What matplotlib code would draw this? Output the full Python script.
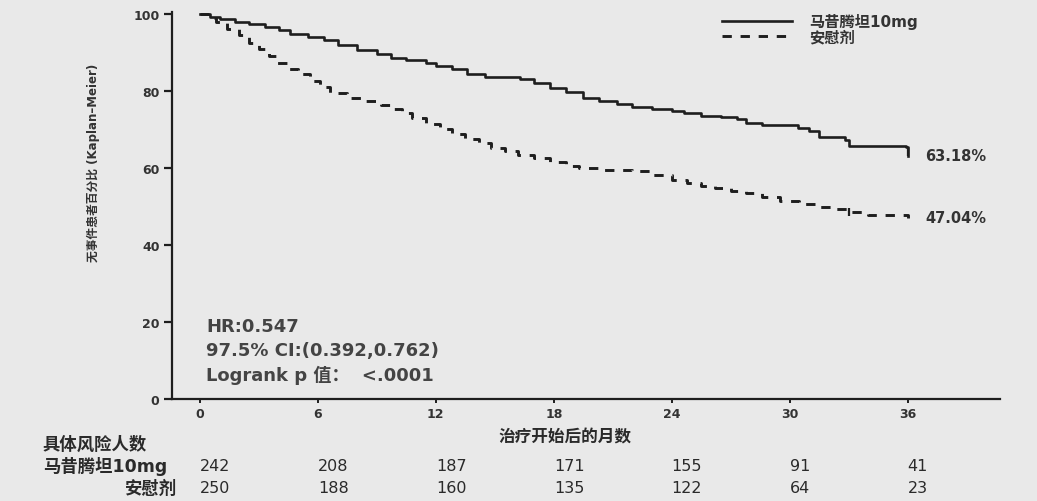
import numpy as np
import matplotlib
matplotlib.use('Agg')
import matplotlib.pyplot as plt
from matplotlib.transforms import blended_transform_factory

plt.rcParams['font.family'] = ['DejaVu Sans', 'Noto Sans CJK SC']

# Kaplan-Meier curves (months, percent event-free)
months_10mg = [0, 0.5, 1.0, 1.8, 2.5, 3.3, 4.0, 4.6, 5.5, 6.3, 7.0, 8.0, 9.0, 9.7,
               10.5, 11.5, 12.0, 12.8, 13.6, 14.5, 16.3, 17.0, 17.8, 18.6, 19.5,
               20.3, 21.2, 22.0, 23.0, 24.0, 24.6, 25.5, 26.5, 27.3, 27.8, 28.6,
               30.4, 31.0, 31.5, 32.8, 33.0, 35.9, 36.0]
pct_10mg = [100, 99.3, 98.6, 98.0, 97.3, 96.5, 95.8, 94.8, 94.0, 93.2, 92.0, 90.6,
            89.6, 88.6, 88.0, 87.3, 86.6, 85.8, 84.5, 83.6, 83.0, 82.0, 80.8, 79.8,
            78.2, 77.4, 76.6, 75.9, 75.3, 74.8, 74.2, 73.6, 73.2, 72.7, 71.8, 71.2,
            70.4, 69.6, 68.0, 67.2, 65.8, 65.4, 63.18]

months_placebo = [0, 0.4, 0.8, 1.4, 2.0, 2.5, 3.0, 3.5, 3.9, 4.5, 5.0, 5.6, 6.1,
                  6.6, 7.5, 8.3, 9.2, 9.8, 10.3, 10.8, 11.5, 12.2, 12.8, 13.5, 14.2,
                  14.8, 15.5, 16.2, 17.0, 17.8, 18.6, 19.3, 20.5, 22.0, 23.0, 24.0,
                  24.8, 25.5, 26.2, 27.0, 27.8, 28.6, 29.5, 30.5, 31.4, 32.2, 33.0,
                  34.0, 36.0]
pct_placebo = [100, 99, 97.8, 96, 94.5, 92.5, 90.8, 89, 87.2, 85.8, 84.3, 82.6,
               81.0, 79.5, 78.2, 77.3, 76.3, 75.4, 74.4, 73.0, 71.5, 70.0, 68.8,
               67.6, 66.4, 65.3, 64.4, 63.4, 62.6, 61.6, 60.6, 60.0, 59.5, 59.1,
               58.2, 57.0, 56.0, 55.2, 54.7, 54.0, 53.4, 52.4, 51.3, 50.6, 49.9,
               49.4, 48.6, 47.7, 47.04]

# censor ticks
censor_10mg = ([36.0], [64.2])
censor_placebo = ([33.0], [48.6])

label_10mg = '马昔腾坦10mg'
label_placebo = '安慰剂'
final_10mg = '63.18%'
final_placebo = '47.04%'

# numbers at risk
risk_months = [0, 6, 12, 18, 24, 30, 36]
risk_10mg = [242, 208, 187, 171, 155, 91, 41]
risk_placebo = [250, 188, 160, 135, 122, 64, 23]

stats_lines = ['HR:0.547', '97.5% CI:(0.392,0.762)', 'Logrank p 值：  <.0001']

W, H = 1037, 502
bg = '#e9e9e9'
ink = '#1e1e1e'
txt = '#333333'
fig = plt.figure(figsize=(W / 100, H / 100), dpi=100, facecolor=bg)
ax = fig.add_axes([172 / W, 1 - 400 / H, (1000 - 172) / W, (400 - 13) / H])
ax.set_facecolor(bg)

ax.plot(months_10mg, pct_10mg, drawstyle='steps-post', color=ink, lw=1.9,
        label=label_10mg)
ax.plot(months_placebo, pct_placebo, drawstyle='steps-post', color=ink, lw=2.1,
        dashes=(3.2, 3.0), label=label_placebo)
ax.plot(*censor_10mg, '|', color=ink, ms=6, mew=1.6)
ax.plot(*censor_placebo, '|', color=ink, ms=6, mew=1.6)

ax.set_xlim(-1.42, 40.7)
ax.set_ylim(0, 100.5)
ax.set_xticks(risk_months)
ax.set_yticks([0, 20, 40, 60, 80, 100])
for s in ['top', 'right']:
    ax.spines[s].set_visible(False)
for s in ['left', 'bottom']:
    ax.spines[s].set_linewidth(1.6)
    ax.spines[s].set_color(ink)
ax.tick_params(axis='y', length=6, width=1.6, labelsize=9, colors=ink, pad=3)
ax.tick_params(axis='x', length=3, width=1.4, labelsize=9, colors=ink, pad=3)
for t in ax.get_xticklabels() + ax.get_yticklabels():
    t.set_fontweight('bold')
    t.set_color(txt)

ax.set_ylabel('无事件患者百分比 (Kaplan–Meier)', fontsize=8.5, fontweight='bold',
              color=txt)
ax.yaxis.set_label_coords((100 - 172) / (1000 - 172), (400 - 163) / (400 - 13))

leg = ax.legend(loc='upper left', bbox_to_anchor=((722 - 172) / 828, (400 - 14) / 387),
                bbox_transform=ax.transAxes, frameon=False, fontsize=11,
                handlelength=4.6, labelspacing=0.0, handletextpad=1.1,
                borderpad=0, borderaxespad=0)
for t in leg.get_texts():
    t.set_fontweight('bold')
    t.set_color(txt)

ax.text(36.9, 63.18, final_10mg, fontsize=10.5, fontweight='bold', color=txt,
        va='center', ha='left')
ax.text(36.9, 47.04, final_placebo, fontsize=10.5, fontweight='bold', color=txt,
        va='center', ha='left')

fy = lambda py: 1 - py / H
for i, line in enumerate(stats_lines):
    fig.text(206 / W, fy(327 + 24 * i), line, fontsize=13, fontweight='bold',
             color='#444444', va='center', ha='left')

fig.text(565 / W, fy(437), '治疗开始后的月数', fontsize=12, fontweight='bold',
         color='#2a2a2a', ha='center', va='center')

fig.text(43 / W, fy(445), '具体风险人数', fontsize=12.5, fontweight='bold',
         color='#2a2a2a', ha='left', va='center')
fig.text(43 / W, fy(467), label_10mg, fontsize=12.5, fontweight='bold',
         color='#2a2a2a', ha='left', va='center')
fig.text(177 / W, fy(489), label_placebo, fontsize=12.5, fontweight='bold',
         color='#2a2a2a', ha='right', va='center')

tr = blended_transform_factory(ax.transData, fig.transFigure)
for m, a, b in zip(risk_months, risk_10mg, risk_placebo):
    ax.text(m, fy(467), str(a), transform=tr, fontsize=11.5, color='#2a2a2a',
            ha='left', va='center', clip_on=False)
    ax.text(m, fy(489), str(b), transform=tr, fontsize=11.5, color='#2a2a2a',
            ha='left', va='center', clip_on=False)

fig.savefig('out.png', dpi=100, facecolor=bg)
